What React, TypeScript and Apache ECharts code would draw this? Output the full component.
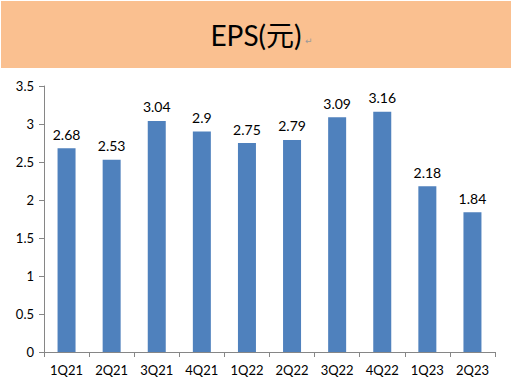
import React, { useEffect, useRef } from "react";
import * as echarts from "echarts";

const categories = ["1Q21", "2Q21", "3Q21", "4Q21", "1Q22", "2Q22", "3Q22", "4Q22", "1Q23", "2Q23"];
const epsValues = [2.68, 2.53, 3.04, 2.9, 2.75, 2.79, 3.09, 3.16, 2.18, 1.84];
const titleText = "EPS(元)";

const FONT = "Lato, 'Noto Sans CJK SC', sans-serif";

export default function App() {
  const ref = useRef<HTMLDivElement>(null);
  useEffect(() => {
    if (!ref.current) return;
    const chart = echarts.init(ref.current, undefined, { renderer: "svg" });
    chart.setOption({
      animation: false,
      backgroundColor: "#ffffff",
      graphic: [
        {
          type: "rect",
          shape: { x: 1, y: 1, width: 510, height: 67 },
          style: { fill: "#FAC090" },
          silent: true,
        },
        {
          type: "text",
          x: 256,
          y: 35,
          style: {
            text: titleText,
            fontSize: 28,
            fontFamily: FONT,
            fill: "#000000",
            align: "center",
            verticalAlign: "middle",
          },
        },
        {
          type: "text",
          x: 305,
          y: 41,
          style: {
            text: "↵",
            fontSize: 9,
            fontFamily: "DejaVu Sans",
            fill: "#999999",
            align: "left",
            verticalAlign: "middle",
          },
        },
      ],
      grid: { left: 44, right: 17, top: 86, bottom: 32, containLabel: false },
      xAxis: {
        type: "category",
        data: categories,
        axisLine: { lineStyle: { color: "#868686", width: 1 } },
        axisTick: { show: true, length: 5, lineStyle: { color: "#868686" } },
        axisLabel: { color: "#000000", fontSize: 13, fontFamily: FONT, margin: 11 },
      },
      yAxis: {
        type: "value",
        min: 0,
        max: 3.5,
        interval: 0.5,
        axisLine: { show: true, lineStyle: { color: "#868686", width: 1 } },
        axisTick: { show: true, length: 5, lineStyle: { color: "#868686" } },
        splitLine: { show: false },
        axisLabel: { color: "#000000", fontSize: 13, fontFamily: FONT, margin: 10 },
      },
      series: [
        {
          type: "bar",
          data: epsValues,
          barWidth: 18,
          itemStyle: { color: "#4F81BD" },
          label: {
            show: true,
            position: "top",
            distance: 7,
            color: "#000000",
            fontSize: 14,
            fontFamily: FONT,
          },
        },
      ],
    });
    return () => chart.dispose();
  }, []);
  return (
    <div
      ref={ref}
      style={{ position: "fixed", left: 0, top: 0, width: 512, height: 384 }}
    />
  );
}
